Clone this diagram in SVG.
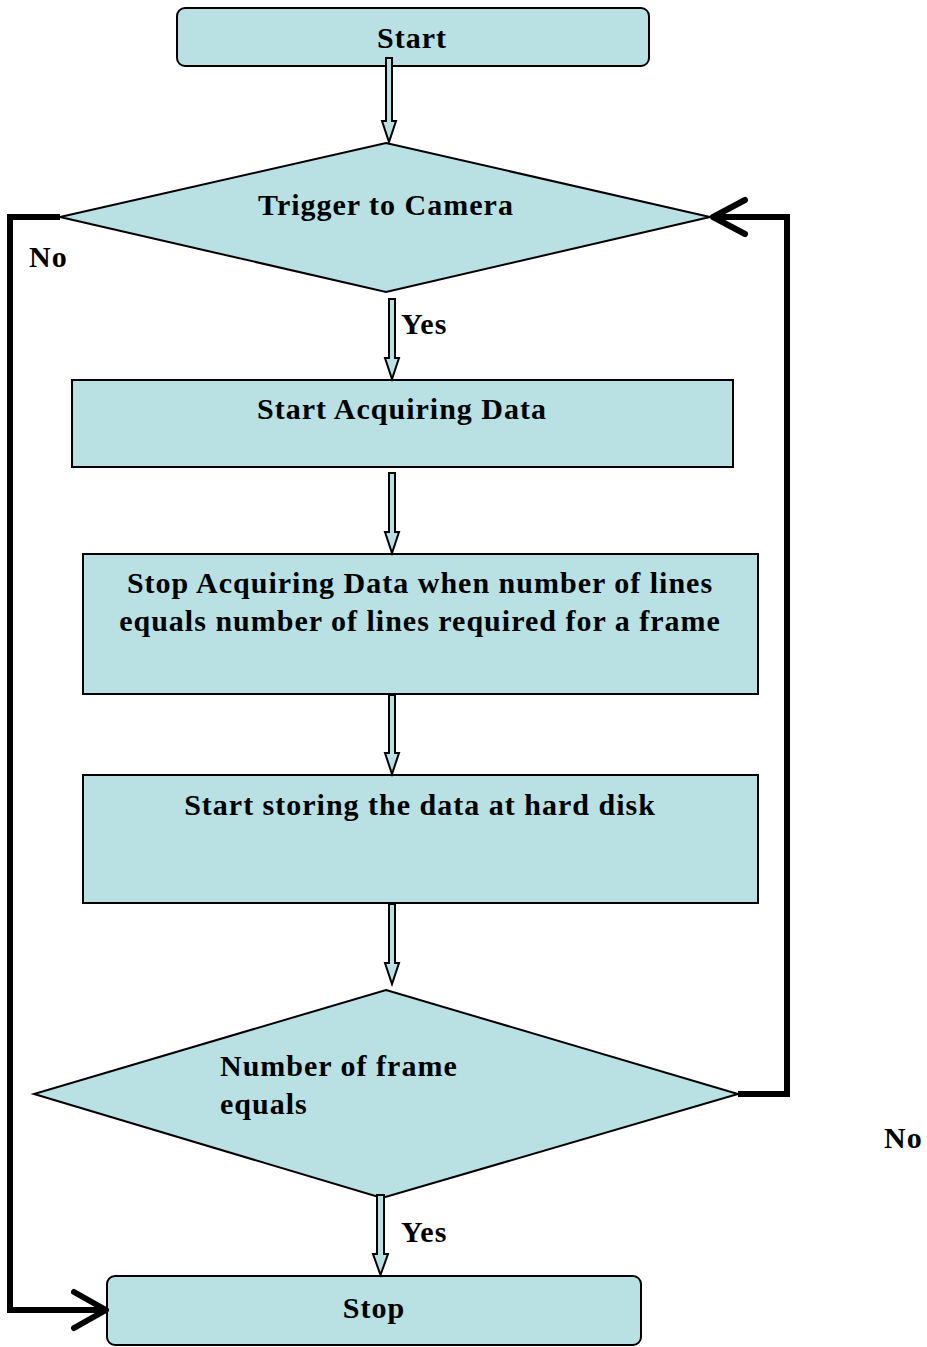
<svg xmlns="http://www.w3.org/2000/svg" width="927" height="1347" viewBox="0 0 927 1347">
  <style>
    .box { fill: #b9e0e3; stroke: #000; stroke-width: 2; }
    .lbl { font-family: "Liberation Serif", "Times New Roman", serif; font-weight: bold; font-size: 30px; letter-spacing: 1px; fill: #000; }
    .mid { text-anchor: middle; }
    .flow { fill: #b9e0e3; stroke: #000; stroke-width: 2; stroke-linejoin: miter; }
    .loop { fill: none; stroke: #000; stroke-width: 6; }
    .chev { fill: none; stroke: #000; stroke-width: 6; stroke-linecap: round; stroke-linejoin: round; }
  </style>
  <rect width="927" height="1347" fill="#fff"/>

  <g id="start">
    <rect class="box" x="177" y="8" width="472" height="58" rx="8"/>
    <text class="lbl mid" x="412" y="48">Start</text>
  </g>

  <g id="trigger">
    <polygon class="box" points="386,143 710,217 386,292 60,217"/>
    <text class="lbl mid" x="386" y="215">Trigger to Camera</text>
  </g>

  <g id="acquire">
    <rect class="box" x="72" y="380" width="661" height="87"/>
    <text class="lbl mid" x="402" y="419">Start Acquiring Data</text>
  </g>

  <g id="stop-acquire">
    <rect class="box" x="83" y="554" width="675" height="140"/>
    <text class="lbl mid" x="420" y="593">Stop Acquiring Data when number of lines</text>
    <text class="lbl mid" x="420" y="631">equals number of lines required for a frame</text>
  </g>

  <g id="store">
    <rect class="box" x="83" y="775" width="675" height="128"/>
    <text class="lbl mid" x="420" y="815">Start storing the data at hard disk</text>
  </g>

  <g id="frame-check">
    <polygon class="box" points="386,990 738,1094 382,1198 34,1094"/>
    <text class="lbl" x="220" y="1076">Number of frame</text>
    <text class="lbl" x="220" y="1114">equals</text>
  </g>

  <g id="stop">
    <rect class="box" x="107" y="1276" width="534" height="69" rx="8"/>
    <text class="lbl mid" x="374" y="1318">Stop</text>
  </g>

  <g id="connectors">
    <!-- block arrows between steps -->
    <polygon class="flow" points="386,58 392,58 392,121 396,121 389,142 382,121 386,121"/>
    <polygon class="flow" points="389,299 395,299 395,358 399,358 392,379 385,358 389,358"/>
    <polygon class="flow" points="389,473 395,473 395,532 399,532 392,553 385,532 389,532"/>
    <polygon class="flow" points="389,695 395,695 395,753 399,753 392,774 385,753 389,753"/>
    <polygon class="flow" points="389,904 395,904 395,963 399,963 392,984 385,963 389,963"/>
    <polygon class="flow" points="377,1195 384,1195 384,1254 388,1254 380.5,1275 373,1254 377,1254"/>

    <!-- "No" branch from trigger to stop -->
    <polyline class="loop" points="60,217 10,217 10,1310 104,1310"/>
    <polyline class="chev" points="74,1292 106,1310 74,1328"/>
    <!-- "No" branch from frame check back to trigger -->
    <polyline class="loop" points="738,1094 787,1094 787,217 714,217"/>
    <polyline class="chev" points="745,200 713,217 745,234"/>

    <text class="lbl" x="401" y="334">Yes</text>
    <text class="lbl" x="401" y="1242">Yes</text>
    <text class="lbl" x="29" y="267">No</text>
    <text class="lbl" x="884" y="1148">No</text>
  </g>
</svg>
